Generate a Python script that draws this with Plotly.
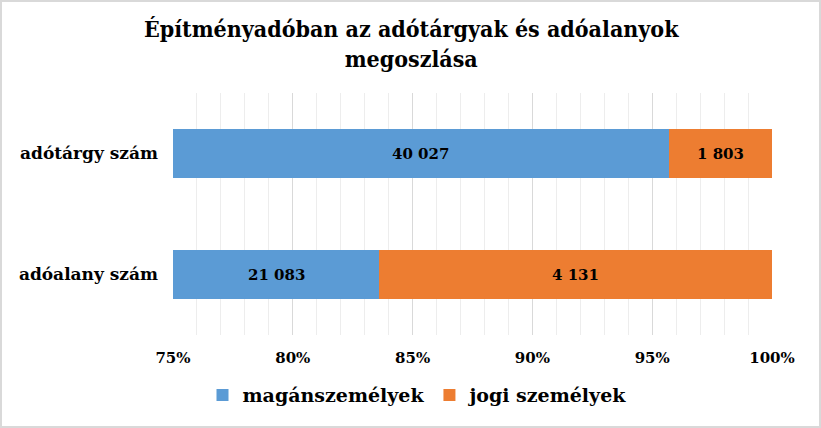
import plotly.graph_objects as go

categories = ["adóalany szám", "adótárgy szám"]
magan = [21083, 40027]
jogi = [4131, 1803]
series_names = ["magánszemélyek", "jogi személyek"]
title_lines = ["Építményadóban az adótárgyak és adóalanyok", "megoszlása"]
x_min = 0.75

W, H = 821, 428
ML, MR, MT, MB = 173, 49, 93, 93
FONT = "DejaVu Serif"
pw = W - ML - MR
ph = H - MT - MB

def fmt(v):
    return f"{v:,}".replace(",", " ")

def py(ypx):
    return (H - MB - ypx) / ph

def px(xpx):
    return (xpx - ML) / pw

fig = go.Figure()
fig.add_trace(go.Bar(
    y=categories, x=magan, name=series_names[0], orientation="h",
    marker=dict(color="#5B9BD5", line=dict(width=0)),
))
fig.add_trace(go.Bar(
    y=categories, x=jogi, name=series_names[1], orientation="h",
    marker=dict(color="#ED7D31", line=dict(width=0)),
))

# data labels centred on visible part of each segment
for cat, m, j in zip(categories, magan, jogi):
    tot = m + j
    fm = m / tot
    for a, b, v in [(x_min, fm, m), (fm, 1.0, j)]:
        a = max(a, x_min)
        fig.add_annotation(x=(a + b) / 2, y=cat, xref="x", yref="y",
                           text=f"<b>{fmt(v)}</b>", showarrow=False,
                           font=dict(family=FONT, size=15, color="#000000"))

# title
fig.add_annotation(x=px(411), y=py(44), xref="paper", yref="paper",
                   xanchor="center", yanchor="middle",
                   text="<b>" + "<br>".join(title_lines) + "</b>", showarrow=False,
                   font=dict(family="DejaVu Serif Condensed, Liberation Serif, serif",
                             size=23, color="#000000"))

fig.add_shape(type="rect", xref="paper", yref="paper",
              x0=px(1), x1=px(W - 1), y0=py(H - 1), y1=py(1),
              line=dict(color="#D9D9D9", width=2), fillcolor="rgba(0,0,0,0)", layer="below")

fig.update_layout(
    width=W, height=H,
    margin=dict(l=ML, r=MR, t=MT, b=MB),
    paper_bgcolor="white", plot_bgcolor="white",
    barmode="stack", barnorm="fraction", bargap=0.6,
    showlegend=True,
    legend=dict(orientation="h", x=px(418), xanchor="center", y=-0.17, yanchor="top",
                font=dict(family=FONT, size=19, color="#000000", weight="bold"),
                itemwidth=30, traceorder="normal", itemsizing="constant"),
    xaxis=dict(range=[x_min, 1.0], dtick=0.05, tickformat=".0%",
               showgrid=True, gridcolor="#D9D9D9", gridwidth=1,
               minor=dict(dtick=0.01, showgrid=True, gridcolor="#EDEDED", gridwidth=1),
               zeroline=False, showline=False, ticks="",
               tickfont=dict(family=FONT, size=15, color="#000000", weight="bold"),
               ticklabelstandoff=12),
    yaxis=dict(showgrid=False, zeroline=False, showline=False, ticks="",
               tickfont=dict(family=FONT, size=17, color="#000000", weight="bold"),
               ticklabelstandoff=14),
)

fig.write_html("out.html")
